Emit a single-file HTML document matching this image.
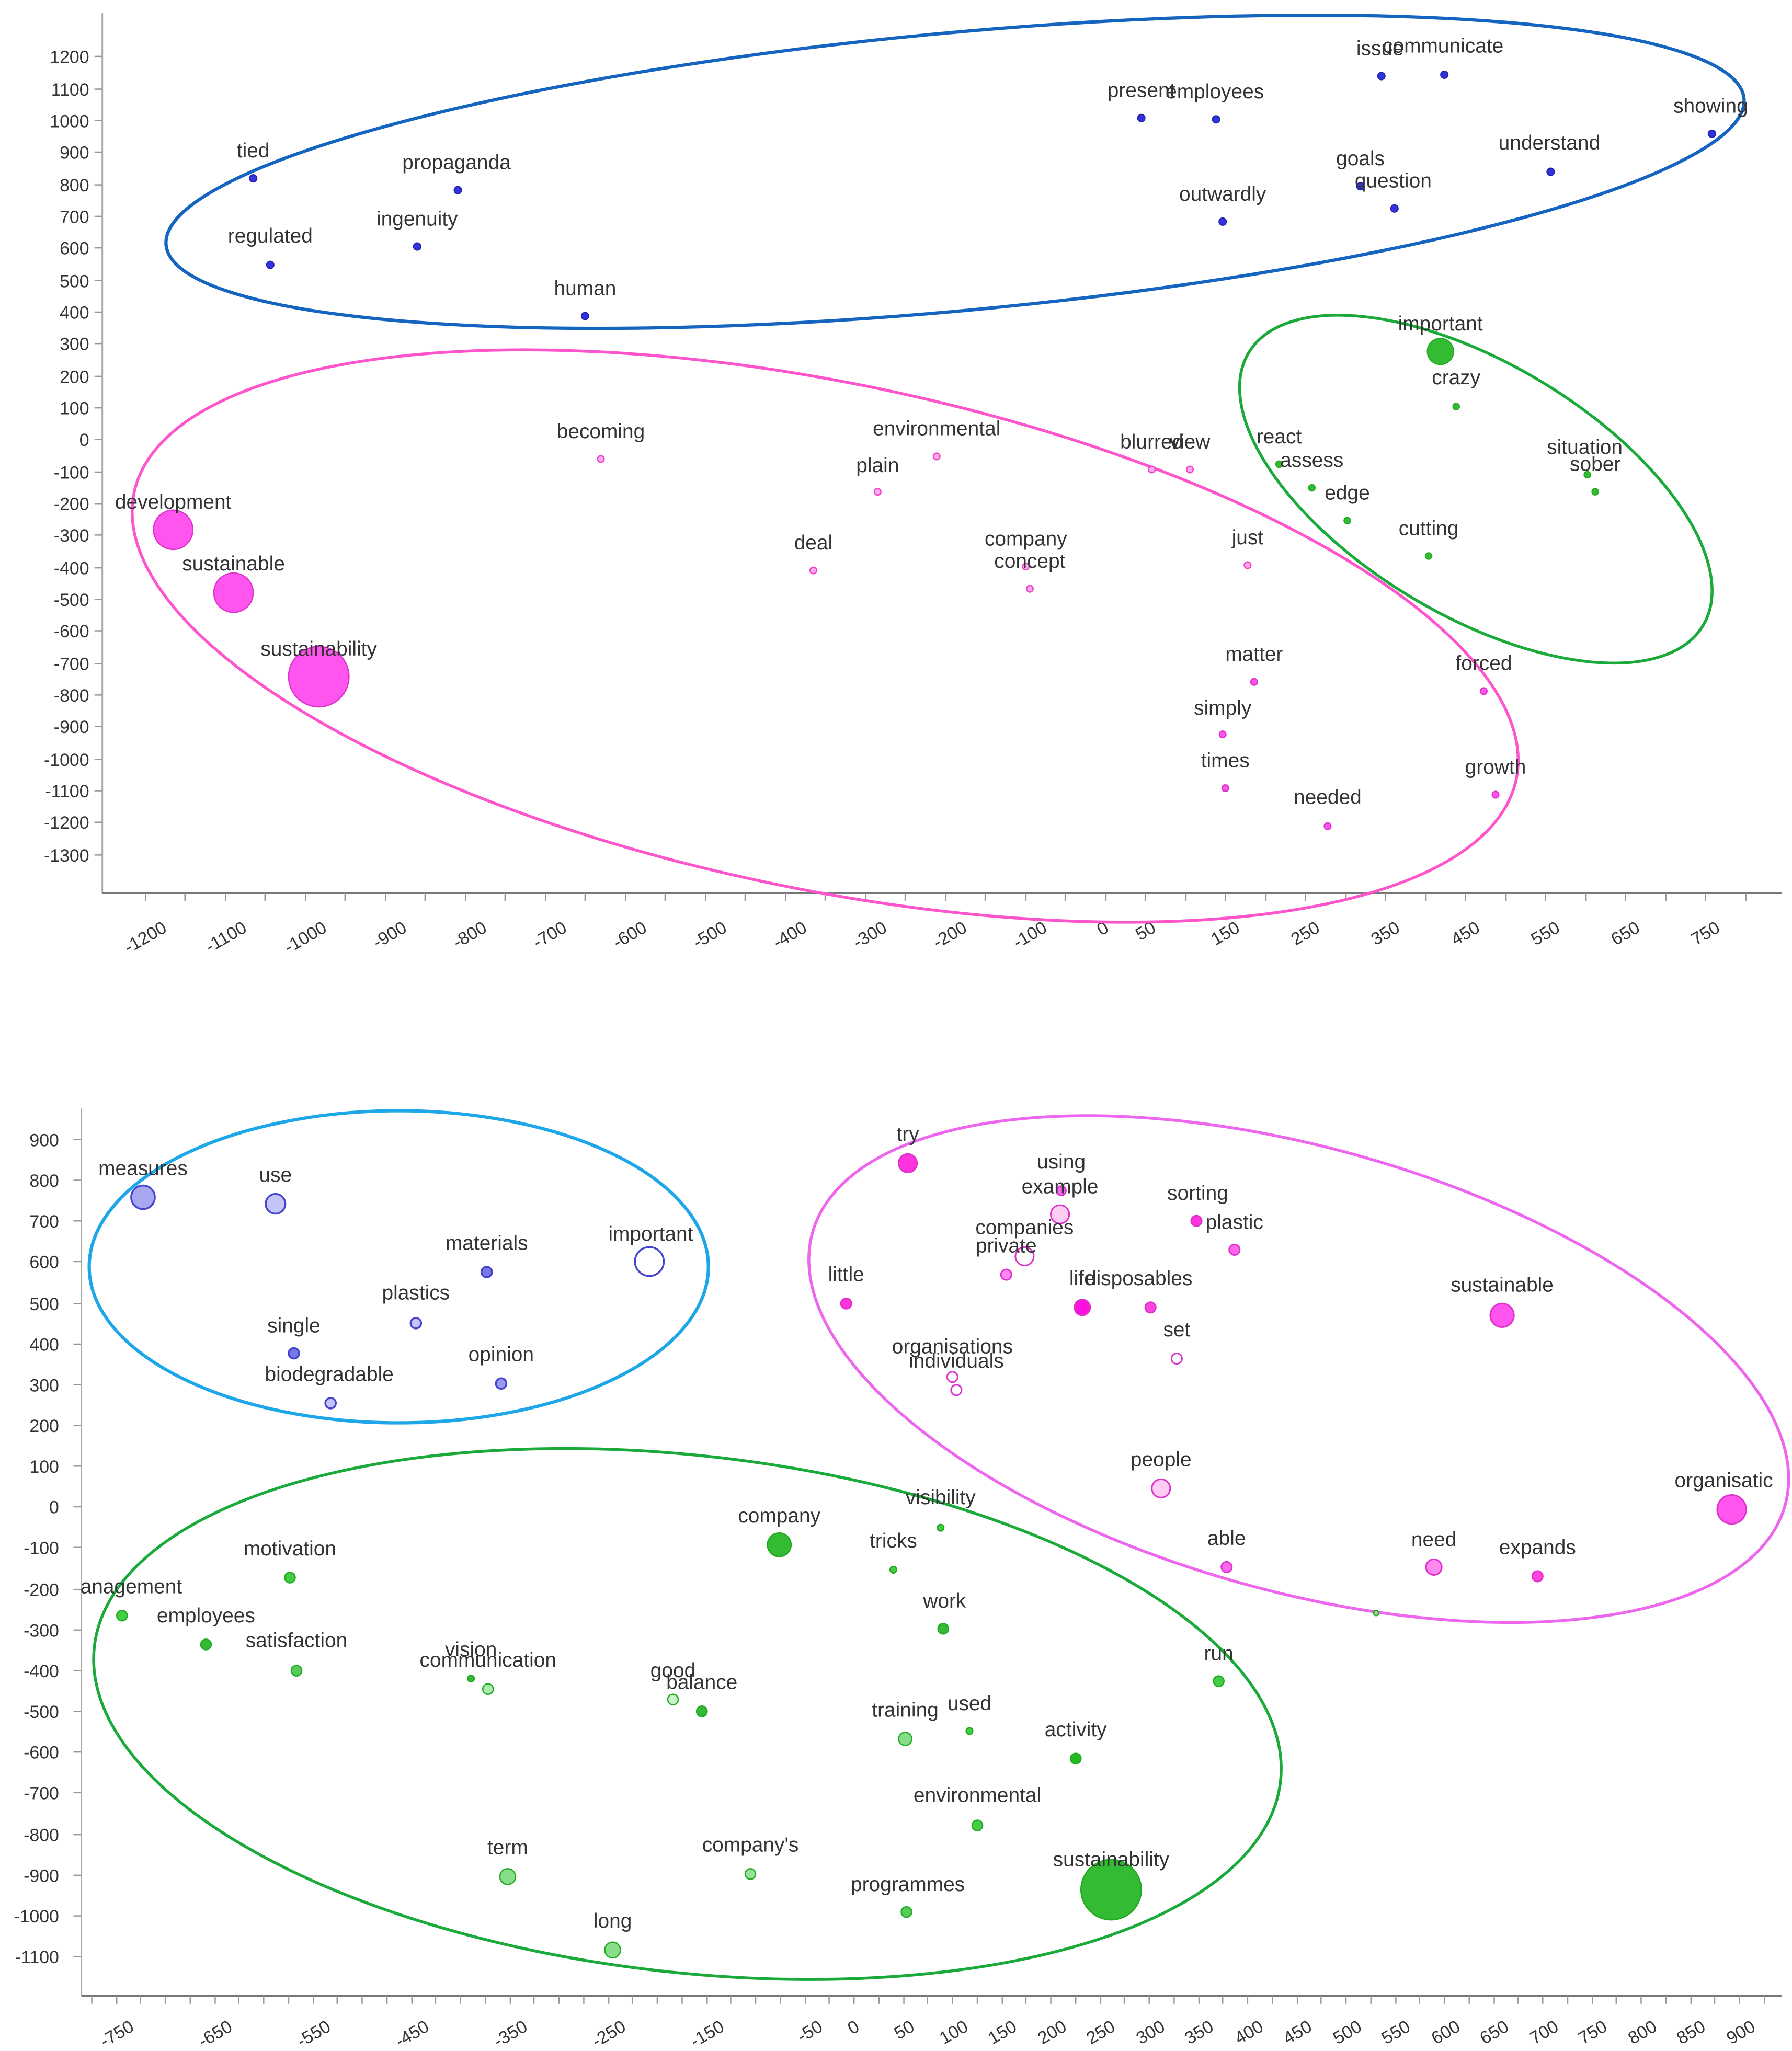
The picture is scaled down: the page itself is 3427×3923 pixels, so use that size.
<!DOCTYPE html>
<html><head><meta charset="utf-8"><style>
html,body{margin:0;padding:0;background:#fff}
svg{display:block}
text{font-family:"Liberation Sans",sans-serif;fill:#333}
.l{font-size:15.5px;text-anchor:middle}
.t{font-size:13.5px;fill:#444}
.ty{text-anchor:end}
</style></head><body>
<svg width="3427" height="3923" viewBox="0 0 1366 1564" preserveAspectRatio="none" xmlns="http://www.w3.org/2000/svg">
<rect width="1366" height="1564" fill="#fff"/>
<g id="top">
<line x1="78" y1="10" x2="78" y2="681" stroke="#aaa" stroke-width="1.2"/>
<line x1="78" y1="681" x2="1358" y2="681" stroke="#777" stroke-width="1.5"/>
<g class="t ty">
<text x="68" y="48">1200</text><text x="68" y="73">1100</text><text x="68" y="97">1000</text><text x="68" y="121">900</text><text x="68" y="146">800</text><text x="68" y="170">700</text><text x="68" y="194">600</text><text x="68" y="219">500</text><text x="68" y="243">400</text><text x="68" y="267">300</text><text x="68" y="292">200</text><text x="68" y="316">100</text><text x="68" y="340">0</text><text x="68" y="365">-100</text><text x="68" y="389">-200</text><text x="68" y="413">-300</text><text x="68" y="438">-400</text><text x="68" y="462">-500</text><text x="68" y="486">-600</text><text x="68" y="511">-700</text><text x="68" y="535">-800</text><text x="68" y="559">-900</text><text x="68" y="584">-1000</text><text x="68" y="608">-1100</text><text x="68" y="632">-1200</text><text x="68" y="657">-1300</text>
</g>
<g stroke="#999" stroke-width="1">
<path d="M72 43h6M72 68h6M72 92h6M72 116h6M72 141h6M72 165h6M72 189h6M72 214h6M72 238h6M72 262h6M72 287h6M72 311h6M72 335h6M72 360h6M72 384h6M72 408h6M72 433h6M72 457h6M72 481h6M72 506h6M72 530h6M72 554h6M72 579h6M72 603h6M72 627h6M72 652h6"/>
<path d="M111 681v6M141 681v6M172 681v6M202 681v6M233 681v6M263 681v6M294 681v6M324 681v6M355 681v6M385 681v6M416 681v6M446 681v6M477 681v6M507 681v6M538 681v6M568 681v6M599 681v6M629 681v6M660 681v6M690 681v6M721 681v6M751 681v6M782 681v6M812 681v6M843 681v6M873 681v6M904 681v6M934 681v6M965 681v6M995 681v6M1026 681v6M1056 681v6M1087 681v6M1117 681v6M1148 681v6M1178 681v6M1209 681v6M1239 681v6M1270 681v6M1300 681v6M1331 681v6"/>
</g>
<g class="t">
<text transform="translate(128,710) rotate(-30)" text-anchor="end">-1200</text>
<text transform="translate(189,710) rotate(-30)" text-anchor="end">-1100</text>
<text transform="translate(250,710) rotate(-30)" text-anchor="end">-1000</text>
<text transform="translate(311,710) rotate(-30)" text-anchor="end">-900</text>
<text transform="translate(372,710) rotate(-30)" text-anchor="end">-800</text>
<text transform="translate(433,710) rotate(-30)" text-anchor="end">-700</text>
<text transform="translate(494,710) rotate(-30)" text-anchor="end">-600</text>
<text transform="translate(555,710) rotate(-30)" text-anchor="end">-500</text>
<text transform="translate(616,710) rotate(-30)" text-anchor="end">-400</text>
<text transform="translate(677,710) rotate(-30)" text-anchor="end">-300</text>
<text transform="translate(738,710) rotate(-30)" text-anchor="end">-200</text>
<text transform="translate(799,710) rotate(-30)" text-anchor="end">-100</text>
<text transform="translate(846,710) rotate(-30)" text-anchor="end">0</text>
<text transform="translate(882,710) rotate(-30)" text-anchor="end">50</text>
<text transform="translate(946,710) rotate(-30)" text-anchor="end">150</text>
<text transform="translate(1007,710) rotate(-30)" text-anchor="end">250</text>
<text transform="translate(1068,710) rotate(-30)" text-anchor="end">350</text>
<text transform="translate(1129,710) rotate(-30)" text-anchor="end">450</text>
<text transform="translate(1190,710) rotate(-30)" text-anchor="end">550</text>
<text transform="translate(1251,710) rotate(-30)" text-anchor="end">650</text>
<text transform="translate(1312,710) rotate(-30)" text-anchor="end">750</text>
</g>
<ellipse cx="728" cy="131" rx="604" ry="106" transform="rotate(-5.3 728 131)" fill="none" stroke="#1565c0" stroke-width="2.5"/>
<ellipse cx="629" cy="485" rx="538" ry="193" transform="rotate(11.7 629 485)" fill="none" stroke="#ff55cc" stroke-width="2.2"/>
<ellipse cx="1125" cy="373" rx="202" ry="96" transform="rotate(31 1125 373)" fill="none" stroke="#1aaa3a" stroke-width="2.2"/>
<g fill="#3333dd" stroke="#2020aa" stroke-width="0.8">
<circle cx="193" cy="136" r="2.8"/><circle cx="349" cy="145" r="2.8"/><circle cx="206" cy="202" r="2.8"/><circle cx="318" cy="188" r="2.8"/><circle cx="446" cy="241" r="2.8"/><circle cx="870" cy="90" r="2.8"/><circle cx="927" cy="91" r="2.8"/><circle cx="1053" cy="58" r="2.8"/><circle cx="1101" cy="57" r="2.8"/><circle cx="1305" cy="102" r="2.8"/><circle cx="1182" cy="131" r="2.8"/><circle cx="1037" cy="142" r="2.8"/><circle cx="1063" cy="159" r="2.8"/><circle cx="932" cy="169" r="2.8"/>
</g>
<g fill="#33bb33" stroke="#22aa22" stroke-width="0.8">
<circle cx="1098" cy="268" r="10"/><circle cx="1110" cy="310" r="2.5"/><circle cx="975" cy="354" r="2.5"/><circle cx="1000" cy="372" r="2.5"/><circle cx="1027" cy="397" r="2.5"/><circle cx="1089" cy="424" r="2.5"/><circle cx="1210" cy="362" r="2.5"/><circle cx="1216" cy="375" r="2.5"/>
</g>
<g fill="#ffaaee" stroke="#ee44cc" stroke-width="1">
<circle cx="458" cy="350" r="2.5"/><circle cx="714" cy="348" r="2.5"/><circle cx="669" cy="375" r="2.5"/><circle cx="878" cy="358" r="2.5"/><circle cx="907" cy="358" r="2.5"/><circle cx="620" cy="435" r="2.5"/><circle cx="782" cy="432" r="2.5"/><circle cx="785" cy="449" r="2.5"/><circle cx="951" cy="431" r="2.5"/>
</g>
<g fill="#ff55ee" stroke="#dd33cc" stroke-width="1">
<circle cx="132" cy="404" r="15"/><circle cx="178" cy="452" r="15"/><circle cx="243" cy="516" r="23"/>
<circle cx="956" cy="520" r="2.5"/><circle cx="932" cy="560" r="2.5"/><circle cx="934" cy="601" r="2.5"/><circle cx="1012" cy="630" r="2.5"/><circle cx="1131" cy="527" r="2.5"/><circle cx="1140" cy="606" r="2.5"/>
</g>
<g class="l">
<text x="193" y="120">tied</text><text x="348" y="129">propaganda</text><text x="206" y="185">regulated</text><text x="318" y="172">ingenuity</text><text x="446" y="225">human</text><text x="870" y="74">present</text><text x="926" y="75">employees</text><text x="1052" y="42">issue</text><text x="1100" y="40">communicate</text><text x="1304" y="86">showing</text><text x="1181" y="114">understand</text><text x="1037" y="126">goals</text><text x="1062" y="143">question</text><text x="932" y="153">outwardly</text>
<text x="1098" y="252">important</text><text x="1110" y="293">crazy</text><text x="975" y="338">react</text><text x="1000" y="356">assess</text><text x="1027" y="381">edge</text><text x="1089" y="408">cutting</text><text x="1208" y="346">situation</text><text x="1216" y="359">sober</text>
<text x="458" y="334">becoming</text><text x="714" y="332">environmental</text><text x="669" y="360">plain</text><text x="878" y="342">blurred</text><text x="907" y="342">view</text><text x="132" y="388">development</text><text x="178" y="435">sustainable</text><text x="243" y="500">sustainability</text><text x="620" y="419">deal</text><text x="782" y="416">company</text><text x="785" y="433">concept</text><text x="951" y="415">just</text><text x="956" y="504">matter</text><text x="932" y="545">simply</text><text x="934" y="585">times</text><text x="1012" y="613">needed</text><text x="1131" y="511">forced</text><text x="1140" y="590">growth</text>
</g>
</g>

<g id="bottom">
<line x1="62" y1="845" x2="62" y2="1522" stroke="#aaa" stroke-width="1.2"/>
<line x1="62" y1="1522" x2="1358" y2="1522" stroke="#777" stroke-width="1.5"/>
<g class="t ty">
<text x="45" y="874">900</text><text x="45" y="905">800</text><text x="45" y="936">700</text><text x="45" y="967">600</text><text x="45" y="999">500</text><text x="45" y="1030">400</text><text x="45" y="1061">300</text><text x="45" y="1092">200</text><text x="45" y="1123">100</text><text x="45" y="1154">0</text><text x="45" y="1185">-100</text><text x="45" y="1217">-200</text><text x="45" y="1248">-300</text><text x="45" y="1279">-400</text><text x="45" y="1310">-500</text><text x="45" y="1341">-600</text><text x="45" y="1372">-700</text><text x="45" y="1404">-800</text><text x="45" y="1435">-900</text><text x="45" y="1466">-1000</text><text x="45" y="1497">-1100</text>
</g>
<g stroke="#999" stroke-width="1">
<path d="M56 869h6M56 900h6M56 931h6M56 962h6M56 994h6M56 1025h6M56 1056h6M56 1087h6M56 1118h6M56 1149h6M56 1180h6M56 1212h6M56 1243h6M56 1274h6M56 1305h6M56 1336h6M56 1367h6M56 1399h6M56 1430h6M56 1461h6M56 1492h6"/>
<path d="M70 1522v6M89 1522v6M107 1522v6M126 1522v6M145 1522v6M164 1522v6M182 1522v6M201 1522v6M220 1522v6M239 1522v6M257 1522v6M276 1522v6M295 1522v6M314 1522v6M332 1522v6M351 1522v6M370 1522v6M389 1522v6M407 1522v6M426 1522v6M445 1522v6M464 1522v6M482 1522v6M501 1522v6M520 1522v6M539 1522v6M557 1522v6M576 1522v6M595 1522v6M614 1522v6M632 1522v6M651 1522v6M670 1522v6M689 1522v6M707 1522v6M726 1522v6M745 1522v6M764 1522v6M782 1522v6M801 1522v6M820 1522v6M839 1522v6M857 1522v6M876 1522v6M895 1522v6M914 1522v6M932 1522v6M951 1522v6M970 1522v6M989 1522v6M1007 1522v6M1026 1522v6M1045 1522v6M1064 1522v6M1082 1522v6M1101 1522v6M1120 1522v6M1139 1522v6M1157 1522v6M1176 1522v6M1195 1522v6M1214 1522v6M1232 1522v6M1251 1522v6M1270 1522v6M1289 1522v6M1307 1522v6M1326 1522v6M1345 1522v6"/>
</g>
<g class="t">
<text transform="translate(103,1548) rotate(-30)" text-anchor="end">-750</text>
<text transform="translate(178,1548) rotate(-30)" text-anchor="end">-650</text>
<text transform="translate(253,1548) rotate(-30)" text-anchor="end">-550</text>
<text transform="translate(328,1548) rotate(-30)" text-anchor="end">-450</text>
<text transform="translate(403,1548) rotate(-30)" text-anchor="end">-350</text>
<text transform="translate(478,1548) rotate(-30)" text-anchor="end">-250</text>
<text transform="translate(553,1548) rotate(-30)" text-anchor="end">-150</text>
<text transform="translate(628,1548) rotate(-30)" text-anchor="end">-50</text>
<text transform="translate(656,1548) rotate(-30)" text-anchor="end">0</text>
<text transform="translate(698,1548) rotate(-30)" text-anchor="end">50</text>
<text transform="translate(739,1548) rotate(-30)" text-anchor="end">100</text>
<text transform="translate(776,1548) rotate(-30)" text-anchor="end">150</text>
<text transform="translate(814,1548) rotate(-30)" text-anchor="end">200</text>
<text transform="translate(851,1548) rotate(-30)" text-anchor="end">250</text>
<text transform="translate(889,1548) rotate(-30)" text-anchor="end">300</text>
<text transform="translate(926,1548) rotate(-30)" text-anchor="end">350</text>
<text transform="translate(964,1548) rotate(-30)" text-anchor="end">400</text>
<text transform="translate(1001,1548) rotate(-30)" text-anchor="end">450</text>
<text transform="translate(1039,1548) rotate(-30)" text-anchor="end">500</text>
<text transform="translate(1076,1548) rotate(-30)" text-anchor="end">550</text>
<text transform="translate(1114,1548) rotate(-30)" text-anchor="end">600</text>
<text transform="translate(1151,1548) rotate(-30)" text-anchor="end">650</text>
<text transform="translate(1189,1548) rotate(-30)" text-anchor="end">700</text>
<text transform="translate(1226,1548) rotate(-30)" text-anchor="end">750</text>
<text transform="translate(1264,1548) rotate(-30)" text-anchor="end">800</text>
<text transform="translate(1301,1548) rotate(-30)" text-anchor="end">850</text>
<text transform="translate(1339,1548) rotate(-30)" text-anchor="end">900</text>
</g>
<ellipse cx="304" cy="966" rx="236" ry="119" fill="none" stroke="#1ea7e8" stroke-width="2.5"/>
<ellipse cx="990" cy="1044" rx="385" ry="169" transform="rotate(15.7 990 1044)" fill="none" stroke="#ee66ee" stroke-width="2.2"/>
<ellipse cx="524" cy="1307" rx="455" ry="197" transform="rotate(6.5 524 1307)" fill="none" stroke="#1aaa3a" stroke-width="2.2"/>
<g stroke="#4444cc" stroke-width="1.4">
<circle cx="109" cy="913" r="9" fill="#a8a8f0"/><circle cx="210" cy="918" r="7.5" fill="#c4c4f6"/><circle cx="371" cy="970" r="4" fill="#7777e6"/><circle cx="495" cy="962" r="11" fill="#fff"/><circle cx="317" cy="1009" r="4" fill="#c4c4f6"/><circle cx="224" cy="1032" r="4" fill="#7777e6"/><circle cx="382" cy="1055" r="4" fill="#9999ee"/><circle cx="252" cy="1070" r="4" fill="#c4c4f6"/>
</g>
<g stroke="#dd33cc" stroke-width="1.2">
<circle cx="692" cy="887" r="7" fill="#ff33dd"/><circle cx="809" cy="908" r="3.5" fill="#ff66ee"/><circle cx="808" cy="926" r="7" fill="#ffccf4"/><circle cx="912" cy="931" r="4" fill="#ff33dd"/><circle cx="941" cy="953" r="4" fill="#ff66ee"/><circle cx="781" cy="958" r="7" fill="#fff"/><circle cx="767" cy="972" r="4" fill="#ff88ee"/><circle cx="645" cy="994" r="4" fill="#ff33dd"/><circle cx="825" cy="997" r="6" fill="#ff11dd"/><circle cx="877" cy="997" r="4" fill="#ff44dd"/><circle cx="1145" cy="1003" r="9" fill="#ff55ee"/><circle cx="897" cy="1036" r="4" fill="#fff"/><circle cx="726" cy="1050" r="4" fill="#fff"/><circle cx="729" cy="1060" r="4" fill="#fff"/><circle cx="885" cy="1135" r="7" fill="#ffccf4"/><circle cx="1320" cy="1151" r="11" fill="#ff55ee"/><circle cx="935" cy="1195" r="4" fill="#ff66ee"/><circle cx="1093" cy="1195" r="6" fill="#ff88ee"/><circle cx="1172" cy="1202" r="4" fill="#ff44dd"/>
</g>
<g stroke="#22aa22" stroke-width="1">
<circle cx="594" cy="1178" r="9" fill="#33bb33"/><circle cx="717" cy="1165" r="2.5" fill="#44cc44"/><circle cx="681" cy="1197" r="2.5" fill="#44cc44"/><circle cx="221" cy="1203" r="4" fill="#44cc44"/><circle cx="93" cy="1232" r="4" fill="#44cc44"/><circle cx="157" cy="1254" r="4" fill="#33bb33"/><circle cx="226" cy="1274" r="4" fill="#55cc55"/><circle cx="719" cy="1242" r="4" fill="#33bb33"/><circle cx="359" cy="1280" r="2.5" fill="#33bb33"/><circle cx="372" cy="1288" r="4" fill="#aaeaaa"/><circle cx="513" cy="1296" r="4" fill="#ccf2cc"/><circle cx="535" cy="1305" r="4" fill="#33bb33"/><circle cx="929" cy="1282" r="4" fill="#44cc44"/><circle cx="690" cy="1326" r="5" fill="#88dd88"/><circle cx="739" cy="1320" r="2.5" fill="#44cc44"/><circle cx="820" cy="1341" r="4" fill="#22bb22"/><circle cx="745" cy="1392" r="4" fill="#44cc44"/><circle cx="387" cy="1431" r="6" fill="#88dd88"/><circle cx="572" cy="1429" r="4" fill="#99e099"/><circle cx="847" cy="1441" r="23" fill="#33bb33"/><circle cx="691" cy="1458" r="4" fill="#55cc55"/><circle cx="467" cy="1487" r="6" fill="#88dd88"/><circle cx="1049" cy="1230" r="2" fill="#88dd88"/>
</g>
<g class="l">
<text x="109" y="896">measures</text><text x="210" y="901">use</text><text x="371" y="953">materials</text><text x="496" y="946">important</text><text x="317" y="991">plastics</text><text x="224" y="1016">single</text><text x="382" y="1038">opinion</text><text x="251" y="1053">biodegradable</text>
<text x="692" y="870">try</text><text x="809" y="891">using</text><text x="808" y="910">example</text><text x="913" y="915">sorting</text><text x="941" y="937">plastic</text><text x="781" y="941">companies</text><text x="767" y="955">private</text><text x="645" y="977">little</text><text x="825" y="980">life</text><text x="868" y="980">disposables</text><text x="1145" y="985">sustainable</text><text x="897" y="1019">set</text><text x="726" y="1032">organisations</text><text x="729" y="1043">individuals</text><text x="885" y="1118">people</text><text x="1314" y="1134">organisatic</text><text x="935" y="1178">able</text><text x="1093" y="1179">need</text><text x="1172" y="1185">expands</text>
<text x="594" y="1161">company</text><text x="717" y="1147">visibility</text><text x="681" y="1180">tricks</text><text x="221" y="1186">motivation</text><text x="100" y="1215">anagement</text><text x="157" y="1237">employees</text><text x="226" y="1256">satisfaction</text><text x="720" y="1226">work</text><text x="359" y="1263">vision</text><text x="372" y="1271">communication</text><text x="513" y="1279">good</text><text x="535" y="1288">balance</text><text x="929" y="1266">run</text><text x="690" y="1309">training</text><text x="739" y="1304">used</text><text x="820" y="1324">activity</text><text x="745" y="1374">environmental</text><text x="387" y="1414">term</text><text x="572" y="1412">company's</text><text x="847" y="1423">sustainability</text><text x="692" y="1442">programmes</text><text x="467" y="1470">long</text>
</g>
</g>
</svg>
</body></html>
